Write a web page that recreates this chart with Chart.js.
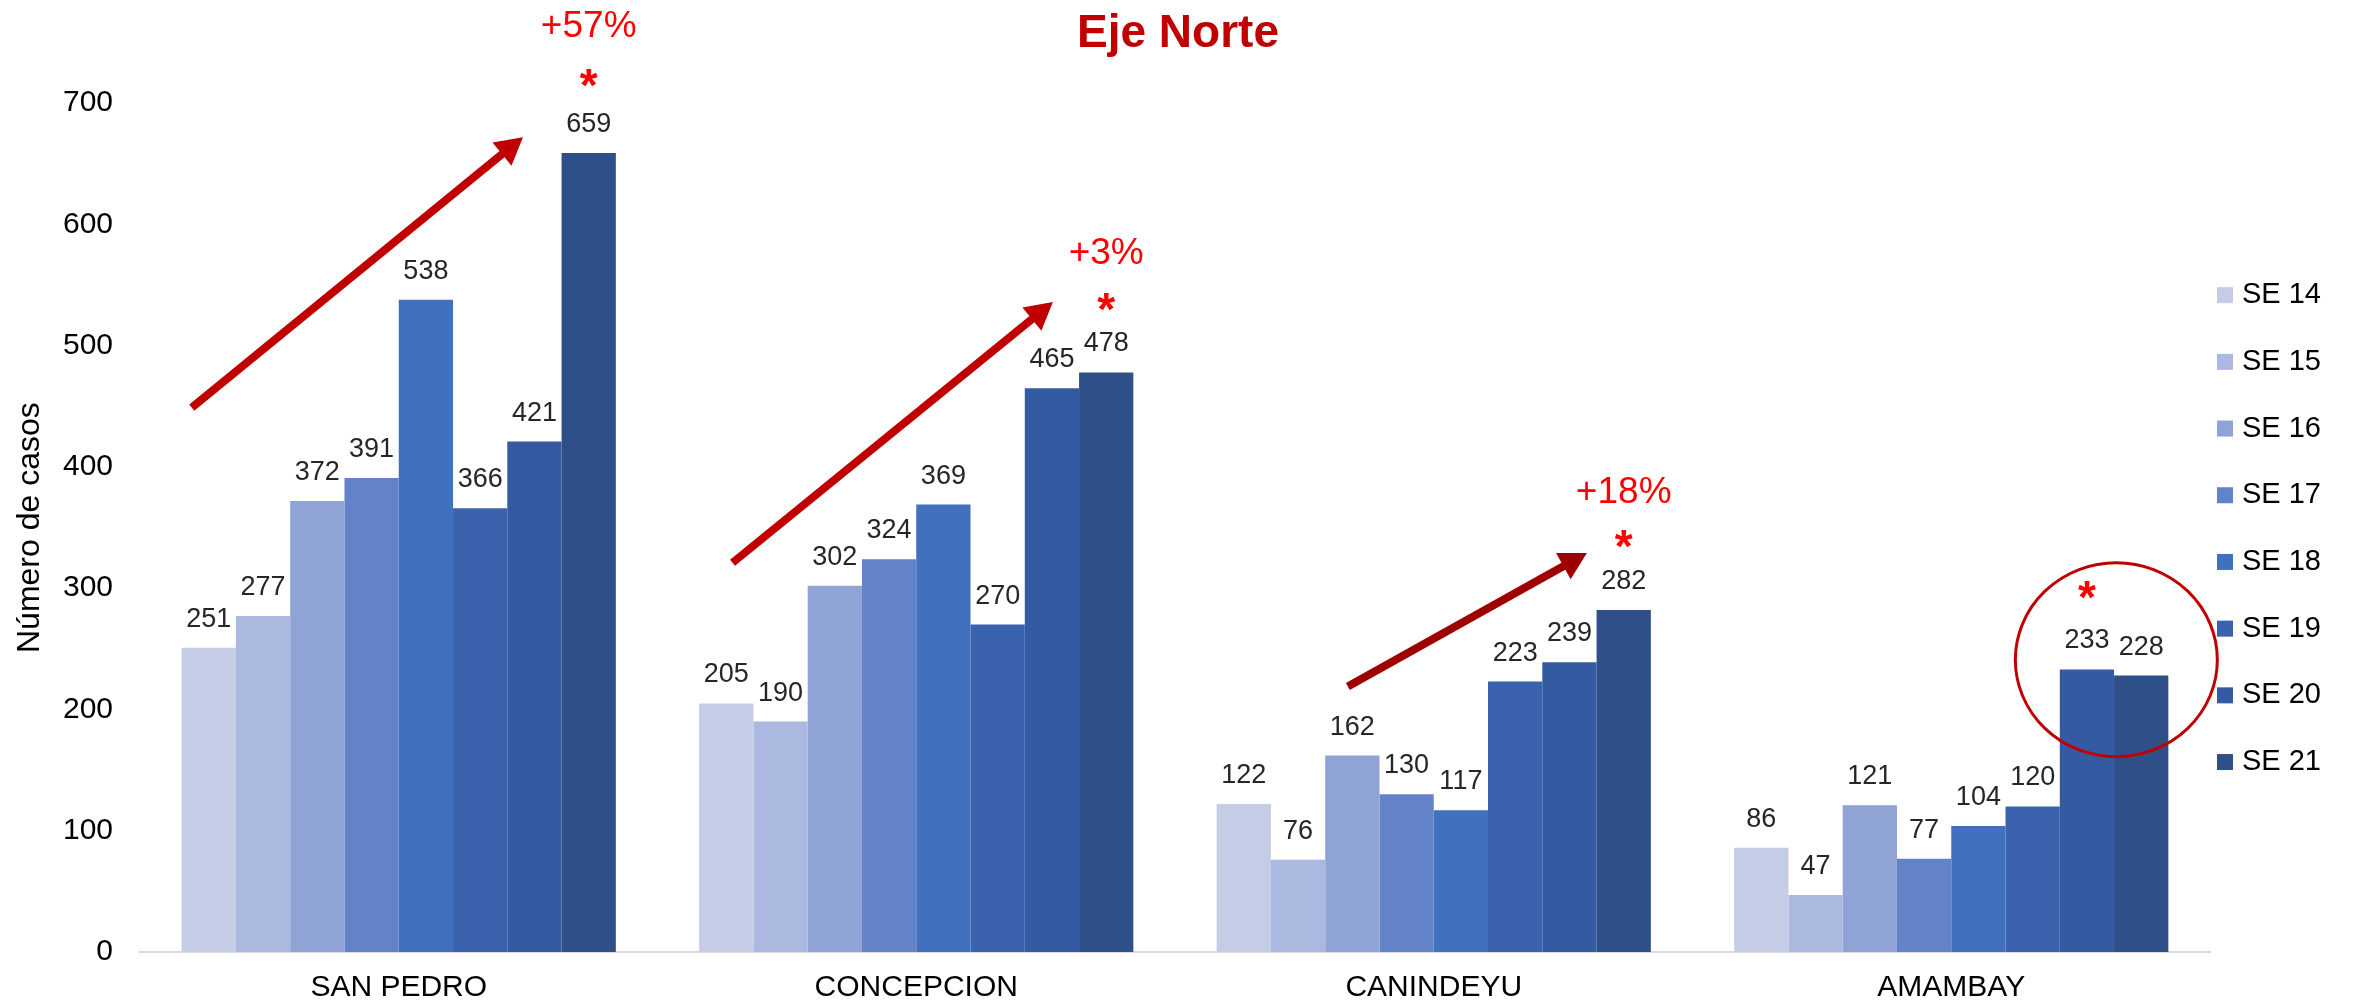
<!DOCTYPE html>
<html>
<head>
<meta charset="utf-8">
<script src="https://cdn.jsdelivr.net/npm/chart.js@4.4.1/dist/chart.umd.min.js"></script>
<style>
  html, body { margin: 0; padding: 0; background: #ffffff; }
  #wrap { width: 2356px; height: 1004px; }
</style>
</head>
<body>
<div id="wrap"><canvas id="chart" width="2356" height="1004"></canvas></div>
<script>
// ---------------- data ----------------
const departments = ['SAN PEDRO', 'CONCEPCION', 'CANINDEYU', 'AMAMBAY'];
const weekLabels = ['SE 14', 'SE 15', 'SE 16', 'SE 17', 'SE 18', 'SE 19', 'SE 20', 'SE 21'];
const se14 = [251, 205, 122, 86];
const se15 = [277, 190, 76, 47];
const se16 = [372, 302, 162, 121];
const se17 = [391, 324, 130, 77];
const se18 = [538, 369, 117, 104];
const se19 = [366, 270, 223, 120];
const se20 = [421, 465, 239, 233];
const se21 = [659, 478, 282, 228];
const yTickValues = [0, 100, 200, 300, 400, 500, 600, 700];

// annotations (data space: category index, value)
const changeTexts = ['+57%', '+3%', '+18%'];
const changeTextValues = [765, 578, 381];
const starValues = [724, 539, 344, 302];
const starWeekIndex = [7, 7, 7, 6];
const trendArrowFrom = [[-0.40, 449], [0.645, 321], [1.834, 219]];
const trendArrowTo = [[0.24, 672], [1.264, 536], [2.296, 329]];
const highlightCenter = [3.319, 241];

// ---------------- styles ----------------
const FONT = "'Liberation Sans', Arial, Helvetica, sans-serif";
const barColors = ['#C5CDE6', '#ABB8DF', '#8FA3D5', '#6383C8', '#4170BF', '#3B63AD', '#345AA1', '#2F4F88'];
const arrowColors = ['#C00000', '#C00000', '#9E0000'];
const seriesValues = [se14, se15, se16, se17, se18, se19, se20, se21];

const datasets = weekLabels.map((lbl, i) => ({
  label: lbl,
  data: seriesValues[i],
  backgroundColor: barColors[i],
  borderWidth: 0,
  barPercentage: 1.0,
  categoryPercentage: 0.839
}));

function drawArrow(ctx, x1, y1, x2, y2, color) {
  const ang = Math.atan2(y2 - y1, x2 - x1);
  const headLen = 27, headHalf = 15;
  const bx = x2 - headLen * Math.cos(ang);
  const by = y2 - headLen * Math.sin(ang);
  ctx.save();
  ctx.strokeStyle = color;
  ctx.fillStyle = color;
  ctx.lineWidth = 8;
  ctx.lineCap = 'butt';
  ctx.beginPath();
  ctx.moveTo(x1, y1);
  ctx.lineTo(bx + 2 * Math.cos(ang), by + 2 * Math.sin(ang));
  ctx.stroke();
  ctx.beginPath();
  ctx.moveTo(x2, y2);
  ctx.lineTo(bx + headHalf * Math.sin(ang), by - headHalf * Math.cos(ang));
  ctx.lineTo(bx - headHalf * Math.sin(ang), by + headHalf * Math.cos(ang));
  ctx.closePath();
  ctx.fill();
  ctx.restore();
}

const valueLabelPlugin = {
  id: 'valueLabels',
  afterDatasetsDraw(chart) {
    const ctx = chart.ctx;
    ctx.save();
    ctx.font = '27px ' + FONT;
    ctx.fillStyle = '#262626';
    ctx.textAlign = 'center';
    ctx.textBaseline = 'alphabetic';
    chart.data.datasets.forEach((ds, di) => {
      const meta = chart.getDatasetMeta(di);
      meta.data.forEach((bar, i) => {
        ctx.fillText(String(ds.data[i]), bar.x, bar.y - 21);
      });
    });
    ctx.restore();
  }
};

const annotationPlugin = {
  id: 'annotations',
  afterDraw(chart) {
    const ctx = chart.ctx;
    const xs = chart.scales.x, ys = chart.scales.y;
    // trend arrows
    trendArrowFrom.forEach((f, i) => {
      const t = trendArrowTo[i];
      drawArrow(ctx, xs.getPixelForValue(f[0]), ys.getPixelForValue(f[1]),
                xs.getPixelForValue(t[0]), ys.getPixelForValue(t[1]), arrowColors[i]);
    });
    // change percentages
    ctx.save();
    ctx.fillStyle = '#FF0000';
    ctx.textAlign = 'center';
    ctx.textBaseline = 'alphabetic';
    ctx.font = '37px ' + FONT;
    changeTexts.forEach((txt, i) => {
      const bar = chart.getDatasetMeta(7).data[i];
      ctx.fillText(txt, bar.x, ys.getPixelForValue(changeTextValues[i]) + 13);
    });
    // stars
    ctx.font = 'bold 46px ' + FONT;
    starValues.forEach((v, i) => {
      const bar = chart.getDatasetMeta(starWeekIndex[i]).data[i];
      ctx.fillText('*', bar.x, ys.getPixelForValue(v) + 27);
    });
    ctx.restore();
    // highlight circle
    ctx.save();
    ctx.strokeStyle = '#C00000';
    ctx.lineWidth = 3;
    ctx.beginPath();
    ctx.ellipse(xs.getPixelForValue(highlightCenter[0]), ys.getPixelForValue(highlightCenter[1]), 101, 97, 0, 0, Math.PI * 2);
    ctx.stroke();
    ctx.restore();
    // legend
    ctx.save();
    const spacing = 66.7;
    const n = chart.data.datasets.length;
    const cy = (chart.chartArea.top + chart.chartArea.bottom) / 2;
    const lx = chart.chartArea.right + 7;
    ctx.font = '29px ' + FONT;
    ctx.textAlign = 'left';
    ctx.textBaseline = 'middle';
    chart.data.datasets.forEach((ds, i) => {
      const y = cy + (i - (n - 1) / 2) * spacing;
      ctx.fillStyle = ds.backgroundColor;
      ctx.fillRect(lx, y - 7, 16, 16);
      ctx.fillStyle = '#000000';
      ctx.fillText(ds.label, lx + 25, y + 1);
    });
    ctx.restore();
  }
};

new Chart(document.getElementById('chart'), {
  type: 'bar',
  data: { labels: departments, datasets: datasets },
  options: {
    responsive: false,
    animation: false,
    devicePixelRatio: 1,
    layout: { padding: 0 },
    plugins: {
      legend: { display: false },
      tooltip: { enabled: false },
      title: {
        display: true,
        text: 'Eje Norte',
        color: '#C00000',
        font: { family: FONT, size: 46, weight: 'bold' },
        padding: { top: 7, bottom: 41 }
      }
    },
    scales: {
      x: {
        type: 'category',
        offset: true,
        grid: { display: false, drawTicks: false },
        border: { display: true, color: '#D9D9D9', width: 2 },
        ticks: { color: '#000000', font: { family: FONT, size: 30 }, padding: 18, maxRotation: 0 },
        afterFit(s) { s.height = 52; }
      },
      y: {
        min: 0,
        max: 700,
        grid: { display: false, drawTicks: false },
        border: { display: false },
        ticks: { color: '#000000', font: { family: FONT, size: 30 }, padding: 27 },
        afterBuildTicks(s) { s.ticks = yTickValues.map(v => ({ value: v })); },
        title: {
          display: true,
          text: 'Número de casos',
          color: '#000000',
          font: { family: FONT, size: 32 },
          padding: { top: 11, bottom: 4 }
        },
        afterFit(s) { s.width = 140; }
      },
      legendSpace: {
        type: 'linear',
        position: 'right',
        display: true,
        grid: { display: false, drawTicks: false },
        border: { display: false },
        ticks: { display: false },
        afterFit(s) { s.width = 146; }
      }
    }
  },
  plugins: [valueLabelPlugin, annotationPlugin]
});
</script>
</body>
</html>
